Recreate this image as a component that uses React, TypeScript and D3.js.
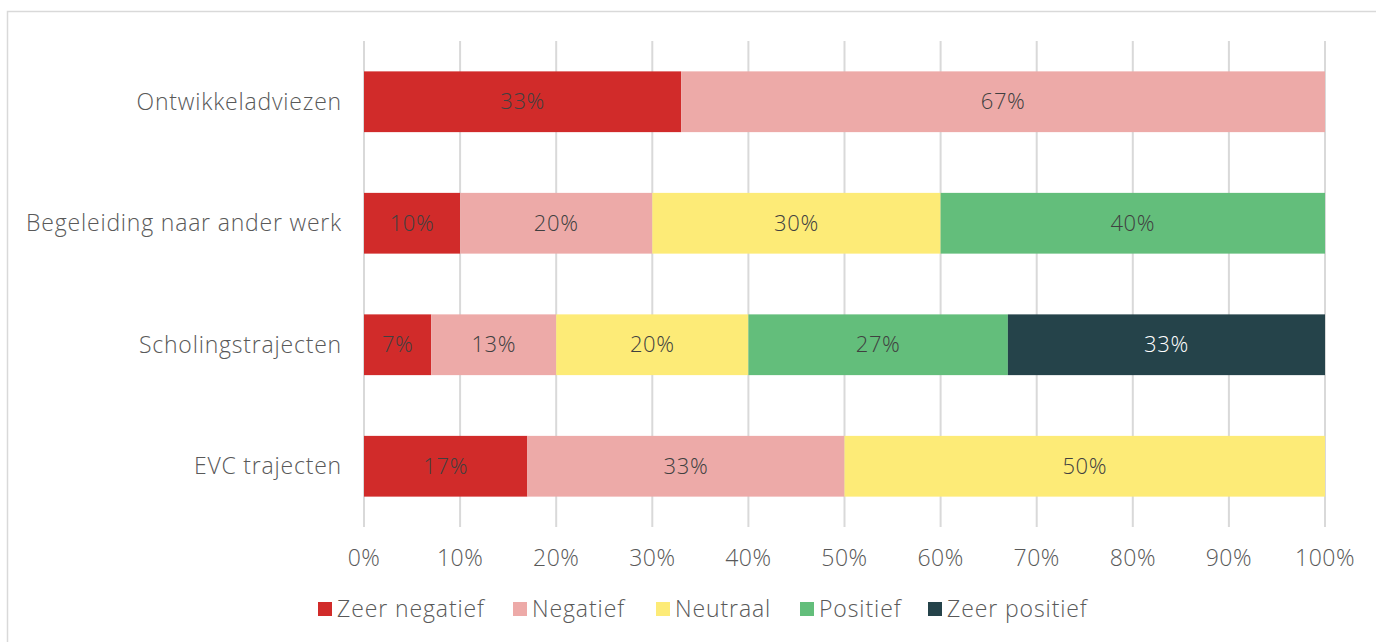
import React, { useRef, useEffect } from "react";
import * as d3 from "d3";

const categories = ["Ontwikkeladviezen", "Begeleiding naar ander werk", "Scholingstrajecten", "EVC trajecten"];
const seriesNames = ["Zeer negatief", "Negatief", "Neutraal", "Positief", "Zeer positief"];
const seriesColors = ["#D12B2A", "#EDAAA8", "#FDEB77", "#63BE7B", "#25434A"];
const labelColors = ["#404040", "#404040", "#404040", "#404040", "#FFFFFF"];

const zeerNegatief = [33, 10, 7, 17];
const negatief = [67, 20, 13, 33];
const neutraal = [0, 30, 20, 50];
const positief = [0, 40, 27, 0];
const zeerPositief = [0, 0, 33, 0];

const xTicks = [0, 10, 20, 30, 40, 50, 60, 70, 80, 90, 100];

const FONT = "'Open Sans', Lato, sans-serif";

const App = () => {
  const svgRef = useRef<SVGSVGElement>(null);

  useEffect(() => {
    const width = 1376, height = 642;
    const margin = { top: 41, right: 51, bottom: 115, left: 364 };

    const svg = d3.select(svgRef.current)
      .attr("width", width)
      .attr("height", height)
      .style("background", "#fff");

    svg.selectAll("*").remove();

    // chart border
    svg.append("rect")
      .attr("x", 7.5)
      .attr("y", 11.5)
      .attr("width", width)
      .attr("height", height)
      .attr("fill", "none")
      .attr("stroke", "#D9D9D9")
      .attr("stroke-width", 1.5);

    const table = categories.map((c, i) => {
      const row: any = { category: c };
      row[seriesNames[0]] = zeerNegatief[i];
      row[seriesNames[1]] = negatief[i];
      row[seriesNames[2]] = neutraal[i];
      row[seriesNames[3]] = positief[i];
      row[seriesNames[4]] = zeerPositief[i];
      return row;
    });

    const stacked = d3.stack().keys(seriesNames)(table);

    const x = d3.scaleLinear()
      .domain([0, 100])
      .range([margin.left, width - margin.right]);

    const y = d3.scaleBand()
      .domain(categories)
      .range([margin.top, height - margin.bottom])
      .paddingInner(0.5)
      .paddingOuter(0.25);

    // gridlines
    svg.append("g")
      .selectAll("line")
      .data(xTicks)
      .enter()
      .append("line")
      .attr("x1", d => x(d))
      .attr("x2", d => x(d))
      .attr("y1", margin.top)
      .attr("y2", height - margin.bottom)
      .attr("stroke", "#D9D9D9")
      .attr("stroke-width", 2);

    // bars
    const layers = svg.append("g")
      .selectAll("g")
      .data(stacked)
      .enter()
      .append("g")
      .attr("fill", (d, i) => seriesColors[i]);

    layers.selectAll("rect")
      .data(d => d.filter(s => s[1] - s[0] > 0))
      .enter()
      .append("rect")
      .attr("x", d => x(d[0]))
      .attr("y", d => y((d.data as any).category)!)
      .attr("width", d => x(d[1]) - x(d[0]))
      .attr("height", y.bandwidth());

    // value labels
    stacked.forEach((layer, i) => {
      svg.append("g")
        .selectAll("text")
        .data(layer.filter(s => s[1] - s[0] > 0))
        .enter()
        .append("text")
        .attr("x", d => (x(d[0]) + x(d[1])) / 2)
        .attr("y", d => y((d.data as any).category)! + y.bandwidth() / 2)
        .attr("dy", "0.35em")
        .attr("text-anchor", "middle")
        .attr("font-family", FONT)
        .attr("font-weight", 300)
        .attr("font-size", 22)
        .attr("letter-spacing", 0.6)
        .attr("fill", labelColors[i])
        .text(d => `${d[1] - d[0]}%`);
    });

    // category labels
    svg.append("g")
      .selectAll("text")
      .data(categories)
      .enter()
      .append("text")
      .attr("x", margin.left - 22)
      .attr("y", d => y(d)! + y.bandwidth() / 2)
      .attr("dy", "0.35em")
      .attr("text-anchor", "end")
      .attr("font-family", FONT)
      .attr("font-weight", 300)
      .attr("font-size", 23)
      .attr("letter-spacing", 0.8)
      .attr("fill", "#595959")
      .text(d => d);

    // x tick labels
    svg.append("g")
      .selectAll("text")
      .data(xTicks)
      .enter()
      .append("text")
      .attr("x", d => x(d))
      .attr("y", 558)
      .attr("dy", "0.35em")
      .attr("text-anchor", "middle")
      .attr("font-family", FONT)
      .attr("font-weight", 300)
      .attr("font-size", 23)
      .attr("letter-spacing", 0.5)
      .attr("fill", "#595959")
      .text(d => `${d}%`);

    // legend
    const legendX = [318, 513, 656, 800, 928];
    const legend = svg.append("g")
      .selectAll("g")
      .data(seriesNames)
      .enter()
      .append("g")
      .attr("transform", (d, i) => `translate(${legendX[i]},609)`);

    legend.append("rect")
      .attr("x", 0)
      .attr("y", -7)
      .attr("width", 14)
      .attr("height", 14)
      .attr("fill", (d, i) => seriesColors[i]);

    legend.append("text")
      .attr("x", 19)
      .attr("y", 0)
      .attr("dy", "0.35em")
      .attr("font-family", FONT)
      .attr("font-weight", 300)
      .attr("font-size", 23)
      .attr("letter-spacing", 0.9)
      .attr("fill", "#595959")
      .text(d => d);
  }, []);

  return (
    <div style={{ position: "absolute", left: 0, top: 0 }}>
      <svg ref={svgRef} style={{ display: "block" }}></svg>
    </div>
  );
};

export default App;
